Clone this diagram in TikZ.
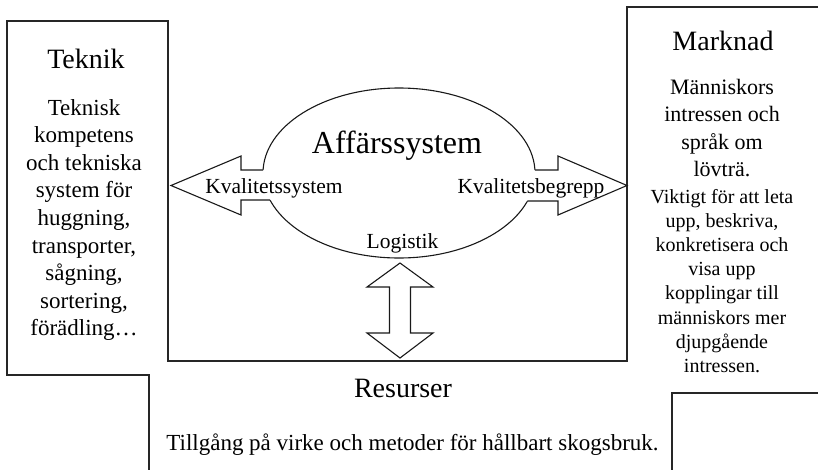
\documentclass[tikz,border=0pt]{standalone}
\usepackage{fontspec}
\setmainfont{Liberation Serif}
\begin{document}
\begin{tikzpicture}[x=1pt,y=-1pt,
  frame/.style={line width=1.3pt,draw=black!85},
  shapeline/.style={line width=1.1pt,draw=black!90,line join=miter},
  title/.style={anchor=base,inner sep=0pt,font=\fontsize{28}{32}\selectfont},
  bigtitle/.style={anchor=base,inner sep=0pt,font=\fontsize{32}{36}\selectfont},
  body/.style={anchor=base,inner sep=0pt,font=\fontsize{23}{27}\selectfont},
  bodyA/.style={anchor=base,inner sep=0pt,font=\fontsize{22}{27}\selectfont},
  bodyB/.style={anchor=base,inner sep=0pt,font=\fontsize{20}{24}\selectfont},
  lbl/.style={anchor=base,inner sep=0pt,font=\fontsize{21.5}{25}\selectfont}]
\useasboundingbox (0,0) rectangle (818,469);

% frames
\draw[frame] (149,480) -- (149,375) -- (7,375) -- (7,21) -- (168,21) -- (168,361)
  -- (627,361) -- (627,7) -- (830,7);
\draw[frame] (672,480) -- (672,393) -- (830,393);

% ellipse
\draw[shapeline] (399,173) ellipse [x radius=136pt, y radius=85pt];

% left arrow
\fill[white] (290,170) -- (241,170) -- (241,156) -- (171,185.5) -- (241,215) -- (241,200) -- (290,200) -- cycle;
\draw[shapeline] (263.1,170) -- (241,170) -- (241,156) -- (171,185.5) -- (241,215) -- (241,200) -- (270,200);

% right arrow
\fill[white] (510,170) -- (558,170) -- (558,156) -- (627,185.5) -- (558,215) -- (558,201) -- (510,201) -- cycle;
\draw[shapeline] (534.9,170) -- (558,170) -- (558,156) -- (627,185.5) -- (558,215) -- (558,201) -- (527.4,201);

% vertical double arrow
\draw[shapeline,fill=white] (400,263) -- (433,287) -- (410.5,287) -- (410.5,333) -- (433,333)
  -- (400,358) -- (367,333) -- (389.5,333) -- (389.5,287) -- (367,287) -- cycle;

% texts
\node[title] (teknik) at (86,68) {Teknik};
\foreach \t [count=\i from 0] in {Teknisk,kompetens,och tekniska,system för,{huggning,},{transporter,},{sågning,},{sortering,},förädling…}
  \node[body] (tb\i) at (84,115+27.6*\i) {\t};

\node[title] (marknad) at (723,50) {Marknad};
\foreach \t [count=\i from 0] in {Människors,intressen och,språk om,lövträ.}
  \node[bodyA] (ma\i) at (722,94+27.6*\i) {\t};
\foreach \t [count=\i from 0] in {Viktigt för att leta,{upp, beskriva,},konkretisera och,visa upp,kopplingar till,människors mer,djupgående,intressen.}
  \node[bodyB] (mb\i) at (722,203+24.2*\i) {\t};

\node[bigtitle] (aff) at (397,153) {Affärssystem};
\node[lbl] (kvs) at (274,193) {Kvalitetssystem};
\node[lbl] (kvb) at (531,193) {Kvalitetsbegrepp};
\node[lbl] (log) at (402.5,248) {Logistik};

\node[title] (res) at (403,397) {Resurser};
\node[body] (rest) at (412.5,450) {Tillgång på virke och metoder för hållbart skogsbruk.};
\end{tikzpicture}
\end{document}
